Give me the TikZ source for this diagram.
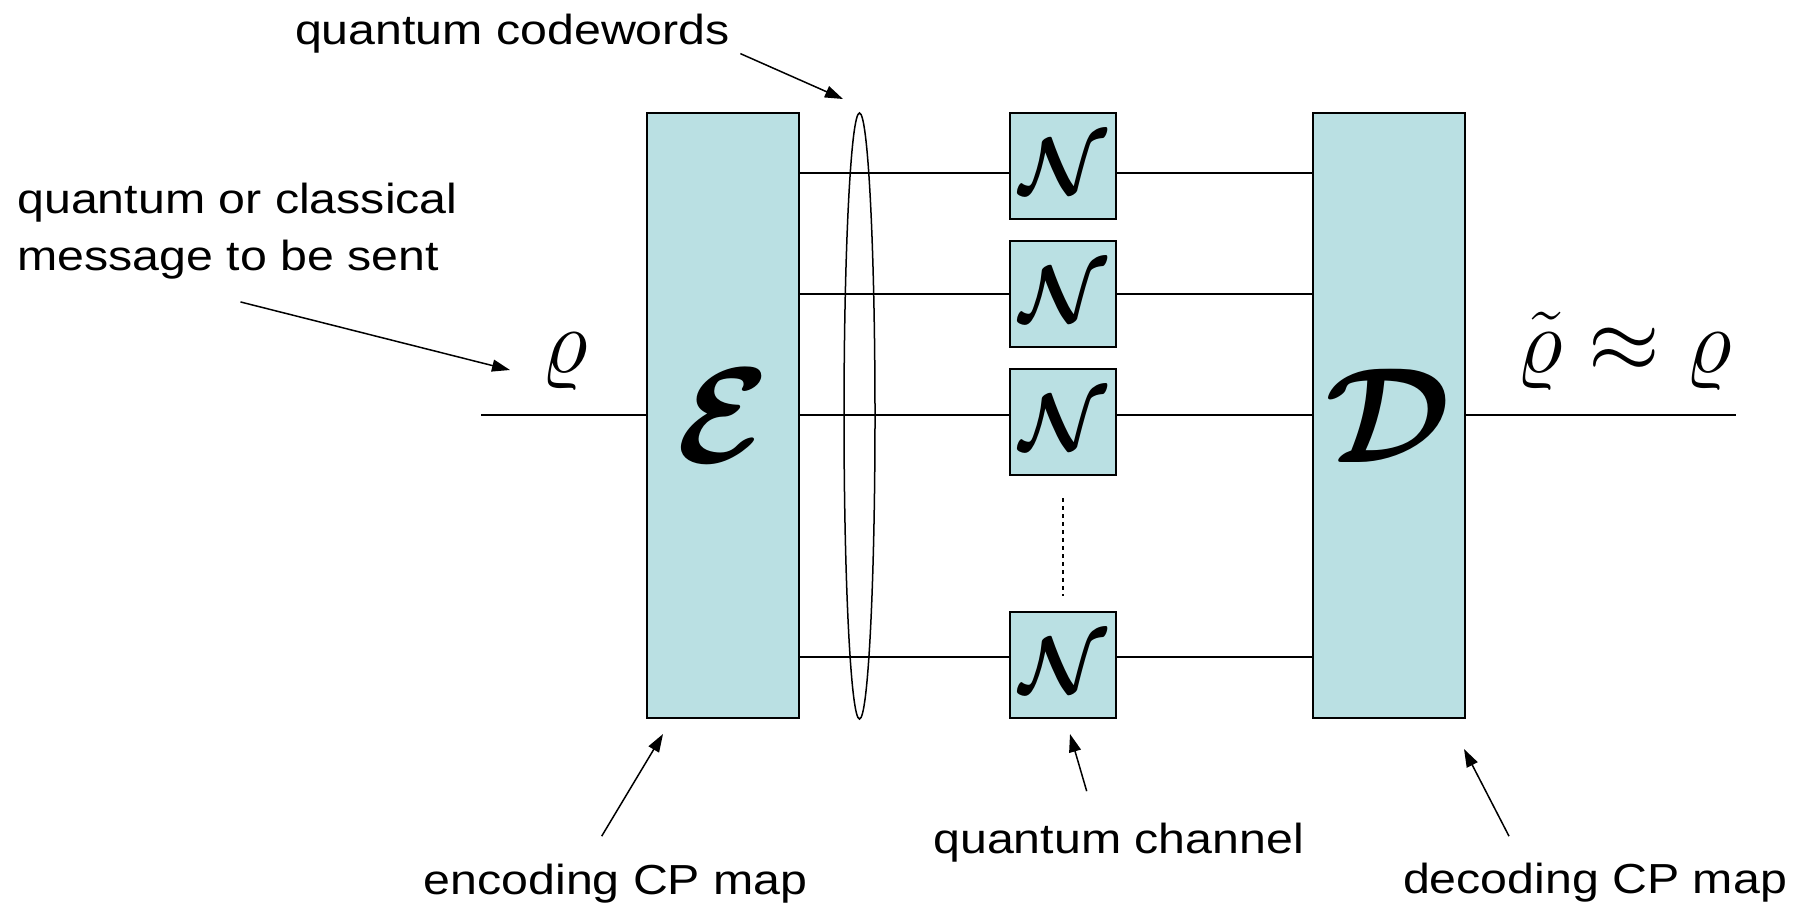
\RequirePackage{fix-cm}
\documentclass[tikz,border=0pt]{standalone}
\usepackage{bm}
\usepackage{fontspec}
\newfontfamily\labelfont[FakeStretch=1.15]{Liberation Sans}
\usetikzlibrary{shapes.geometric, arrows.meta, positioning}

\definecolor{mapfill}{RGB}{186,224,227}
% big bold calligraphic letter for the maps
\newcommand{\mapsym}[2]{{\fontsize{#1}{#1}\selectfont$\bm{\mathcal{#2}}$}}

\begin{document}
\begin{tikzpicture}[x=0.5pt, y=-0.5pt,
    map/.style={rectangle, draw, line width=1pt, fill=mapfill, minimum width=76pt, minimum height=302.5pt, inner sep=0pt},
    chan/.style={rectangle, draw, line width=1pt, fill=mapfill, minimum width=53pt, minimum height=53pt, inner sep=0pt},
    wire/.style={line width=1pt},
    pointer/.style={-{Triangle[length=9pt, width=6pt]}, line width=0.75pt},
    lbl/.style={inner sep=0pt, font=\labelfont\fontsize{21}{28.5}\selectfont},
    sym/.style={inner sep=0pt, font=\fontsize{46}{48}\selectfont},
    node distance=10pt
]
\useasboundingbox (0,0) rectangle (1803,907);

% encoder, channel uses, decoder
\node[map] (enc) at (723,415.5)  {\mapsym{68}{E}};
\node[map] (dec) at (1388.5,415.5) {\mapsym{68}{D}};
\node[chan] (ch1) at (1063,166) {\mapsym{40}{N}};
\node[chan, below=of ch1] (ch2) {\mapsym{40}{N}};
\node[chan, below=of ch2] (ch3) {\mapsym{40}{N}};
\node[chan] (ch4) at (1063,665) {\mapsym{40}{N}};

% the codewords
\node[draw, ellipse, line width=0.75pt, minimum width=15.5pt, minimum height=303pt, inner sep=0pt] (cw) at (859.5,416) {};

\draw[wire] (enc.east |- 0,173) -- (ch1.west |- 0,173);
\draw[wire] (enc.east |- 0,294) -- (ch2.west |- 0,294);
\draw[wire] (enc.east |- 0,415) -- (ch3.west |- 0,415);
\draw[wire] (enc.east |- 0,657) -- (ch4.west |- 0,657);
\draw[wire] (ch1.east |- 0,173) -- (dec.west |- 0,173);
\draw[wire] (ch2.east |- 0,294) -- (dec.west |- 0,294);
\draw[wire] (ch3.east |- 0,415) -- (dec.west |- 0,415);
\draw[wire] (ch4.east |- 0,657) -- (dec.west |- 0,657);
\draw[line width=1pt, dash pattern=on 2pt off 2pt] ([yshift=-11pt]ch3.south) -- ([yshift=7.5pt]ch4.north);

% input and output
\coordinate (src) at (481,415);
\coordinate (snk) at (1736,415);
\draw[wire] (src) -- (src -| enc.west);
\draw[wire] (dec.east |- snk) -- (snk);
\node[sym, anchor=base] (rin)  at (565,372)  {$\varrho$};
\node[sym, anchor=base] (rout) at (1624,372) {$\tilde{\varrho}\approx\varrho$};

% labels
\node[lbl, anchor=base] (cwlbl) at (512.5,44.5) {quantum codewords};
\node[lbl, anchor=north west, align=left] (msglbl) at (17,183) {quantum or classical\\message to be sent};
\node[lbl, anchor=base] (enclbl) at (615.7,894) {encoding CP map};
\node[lbl, anchor=base] (chlbl) at (1118.7,853) {quantum channel};
\node[lbl, anchor=base] (declbl) at (1595,893) {decoding CP map};

\coordinate (cwtip)  at (843,99);
\coordinate (msgtip) at (510,370);
\coordinate (enctip) at (663,734);
\coordinate (chtip)  at (1070,734);
\coordinate (dectip) at (1464,749);
\draw[pointer] ([xshift=5pt]cwlbl.south east) -- (cwtip);
\draw[pointer] ([xshift=1.5pt,yshift=-11pt]msglbl.south) -- (msgtip);
\draw[pointer] ([xshift=-7pt,yshift=13.5pt]enclbl.north) -- (enctip);
\draw[pointer] ([xshift=-16pt,yshift=15.5pt]chlbl.north) -- (chtip);
\draw[pointer] ([xshift=-43pt,yshift=13pt]declbl.north) -- (dectip);
\end{tikzpicture}
\end{document}
